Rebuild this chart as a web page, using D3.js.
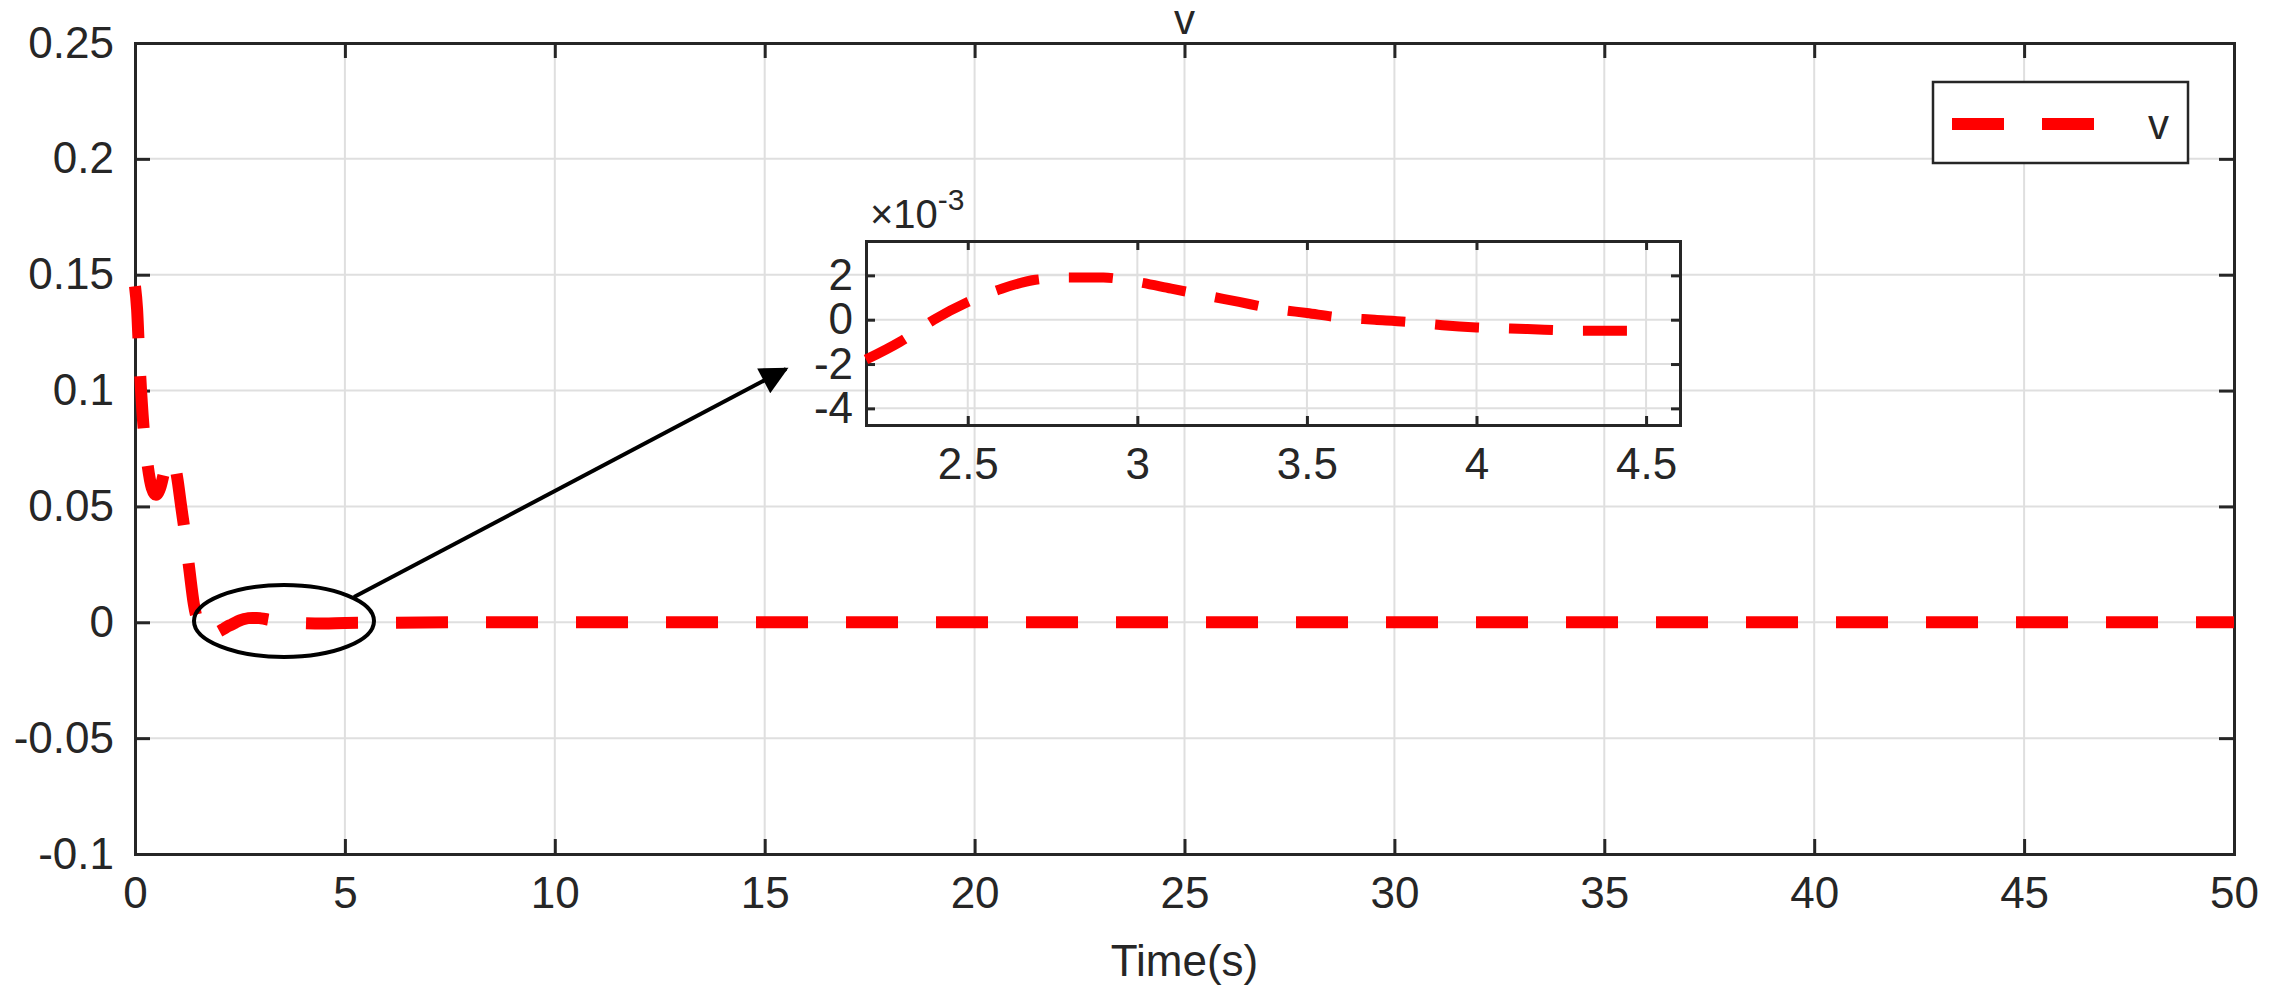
<!DOCTYPE html>
<html><head><meta charset="utf-8">
<script src="https://cdn.jsdelivr.net/npm/d3@7/dist/d3.min.js"></script>
<style>body{margin:0;background:#fff}text{font-family:"Liberation Sans",Arial,sans-serif;fill:#262626}</style>
</head><body><svg id="c" width="2272" height="996"></svg>
<script>
const xTicks=[0,5,10,15,20,25,30,35,40,45,50];
const yTicks=[-0.1,-0.05,0,0.05,0.1,0.15,0.2,0.25];
const tMain=[0,0.05,0.1,0.2,0.3,0.4,0.5,0.6,0.7,0.8,0.9,1.0,1.1,1.2,1.3,1.4,1.5,1.6,1.7,1.8,1.9,2.0,2.1,2.2,2.3,2.4,2.5,2.6,2.7,2.8,2.9,3.0,3.2,3.4,3.6,3.8,4.0,4.5,5,6,8,10,20,30,40,50];
const vMain=[0.145,0.135,0.115,0.085,0.068,0.058,0.055,0.058,0.065,0.070,0.071,0.063,0.050,0.037,0.022,0.008,0.0,-0.004,-0.0055,-0.0058,-0.005,-0.004,-0.003,-0.0018,-0.001,0,0.0008,0.0014,0.0018,0.0019,0.0019,0.0017,0.0011,0.0005,0.0001,-0.0001,-0.00035,-0.0005,-0.0003,-0.0002,0,0,0,0,0,0];
const tIn=[2.2,2.3,2.4,2.5,2.6,2.7,2.8,2.9,3.0,3.1,3.2,3.3,3.4,3.5,3.6,3.7,3.8,3.9,4.0,4.1,4.2,4.3,4.4,4.5];
const vIn=[-1.8,-1.0,0,0.8,1.4,1.8,1.9,1.9,1.7,1.4,1.1,0.8,0.5,0.3,0.1,0,-0.1,-0.25,-0.35,-0.4,-0.45,-0.5,-0.5,-0.5];
const xInTicks=[2.5,3,3.5,4,4.5];
const yInTicks=[-4,-2,0,2];

const svg=d3.select("#c");
const L=135,R=2234,T=43,B=854;
const x=d3.scaleLinear().domain([0,50]).range([L,R]);
const y=d3.scaleLinear().domain([-0.1,0.25]).range([B,T]);
const g=svg.append("g");
g.selectAll(".gx").data(xTicks).join("line").attr("x1",d=>x(d)).attr("x2",d=>x(d)).attr("y1",T).attr("y2",B).attr("stroke","#dfdfdf").attr("stroke-width",2);
g.selectAll(".gy").data(yTicks).join("line").attr("y1",d=>y(d)).attr("y2",d=>y(d)).attr("x1",L).attr("x2",R).attr("stroke","#dfdfdf").attr("stroke-width",2);
function axes(gg,xs,ys,xt,yt,fs,tl,fmtY,px,py){
  const ax=gg.append("g").attr("transform",`translate(0,${ys.range()[0]})`).call(d3.axisBottom(xs).tickValues(xt).tickSize(-tl).tickPadding(tl+px).tickFormat(d=>d));
  const axT=gg.append("g").attr("transform",`translate(0,${ys.range()[1]})`).call(d3.axisTop(xs).tickValues(xt).tickSize(-tl).tickFormat(""));
  const ay=gg.append("g").attr("transform",`translate(${xs.range()[0]},0)`).call(d3.axisLeft(ys).tickValues(yt).tickSize(-tl).tickPadding(tl+py).tickFormat(fmtY));
  const ayR=gg.append("g").attr("transform",`translate(${xs.range()[1]},0)`).call(d3.axisRight(ys).tickValues(yt).tickSize(-tl).tickFormat(""));
  [ax,axT,ay,ayR].forEach(a=>{a.selectAll("path").attr("stroke","#262626").attr("stroke-width",3);a.selectAll("line").attr("stroke","#262626").attr("stroke-width",3);a.selectAll("text").attr("font-size",fs).style("fill","#262626");});
}
axes(g,x,y,xTicks,yTicks,44,15,d=>d===0?"0":String(d),8,6);
g.append("path").datum(tMain.map((t,i)=>[t,vMain[i]])).attr("d",d3.line().x(d=>x(d[0])).y(d=>y(d[1])).curve(d3.curveMonotoneX))
 .attr("fill","none").attr("stroke","#ff0000").attr("stroke-width",12).attr("stroke-dasharray","52 38");
svg.append("text").attr("x",(L+R)/2).attr("y",34).attr("text-anchor","middle").attr("font-size",42).text("v");
svg.append("text").attr("x",(L+R)/2).attr("y",976).attr("text-anchor","middle").attr("font-size",44).text("Time(s)");
svg.append("rect").attr("x",1933).attr("y",82).attr("width",255).attr("height",81).attr("fill","#fff").attr("stroke","#262626").attr("stroke-width",2.5);
svg.append("line").attr("x1",1952).attr("x2",2125).attr("y1",124).attr("y2",124).attr("stroke","#ff0000").attr("stroke-width",12).attr("stroke-dasharray","52 38");
svg.append("text").attr("x",2148).attr("y",139).attr("font-size",42).text("v");
svg.append("ellipse").attr("cx",284).attr("cy",621).attr("rx",90).attr("ry",36).attr("fill","none").attr("stroke","#000").attr("stroke-width",4);
svg.append("defs").append("marker").attr("id","ah").attr("viewBox","0 0 10 10").attr("refX",9).attr("refY",5).attr("markerWidth",12).attr("markerHeight",7).attr("markerUnits","strokeWidth").attr("orient","auto")
 .append("path").attr("d","M0,0L10,5L0,10Z").attr("fill","#000");
svg.append("line").attr("x1",354).attr("y1",597).attr("x2",786).attr("y2",369).attr("stroke","#000").attr("stroke-width",4).attr("marker-end","url(#ah)");
const IL=866,IR=1680,IT=241,IB=425;
const xi=d3.scaleLinear().domain([2.2,4.6]).range([IL,IR]);
const yi=d3.scaleLinear().domain([-4.75,3.55]).range([IB,IT]);
const gi=svg.append("g");
gi.selectAll(".gxi").data(xInTicks).join("line").attr("x1",d=>xi(d)).attr("x2",d=>xi(d)).attr("y1",IT).attr("y2",IB).attr("stroke","#dfdfdf").attr("stroke-width",2);
gi.selectAll(".gyi").data(yInTicks).join("line").attr("y1",d=>yi(d)).attr("y2",d=>yi(d)).attr("x1",IL).attr("x2",IR).attr("stroke","#dfdfdf").attr("stroke-width",2);
axes(gi,xi,yi,xInTicks,yInTicks,44,9,d=>String(d),14,4);
gi.append("path").datum(tIn.map((t,i)=>[t,vIn[i]])).attr("d",d3.line().x(d=>xi(d[0])).y(d=>yi(d[1])).curve(d3.curveMonotoneX))
 .attr("fill","none").attr("stroke","#ff0000").attr("stroke-width",10).attr("stroke-dasharray","44 30");
const ex=svg.append("text").attr("x",870).attr("y",228).attr("font-size",40);
ex.append("tspan").text("\u00d710");
ex.append("tspan").attr("dy",-18).attr("font-size",30).text("-3");
</script></body></html>
